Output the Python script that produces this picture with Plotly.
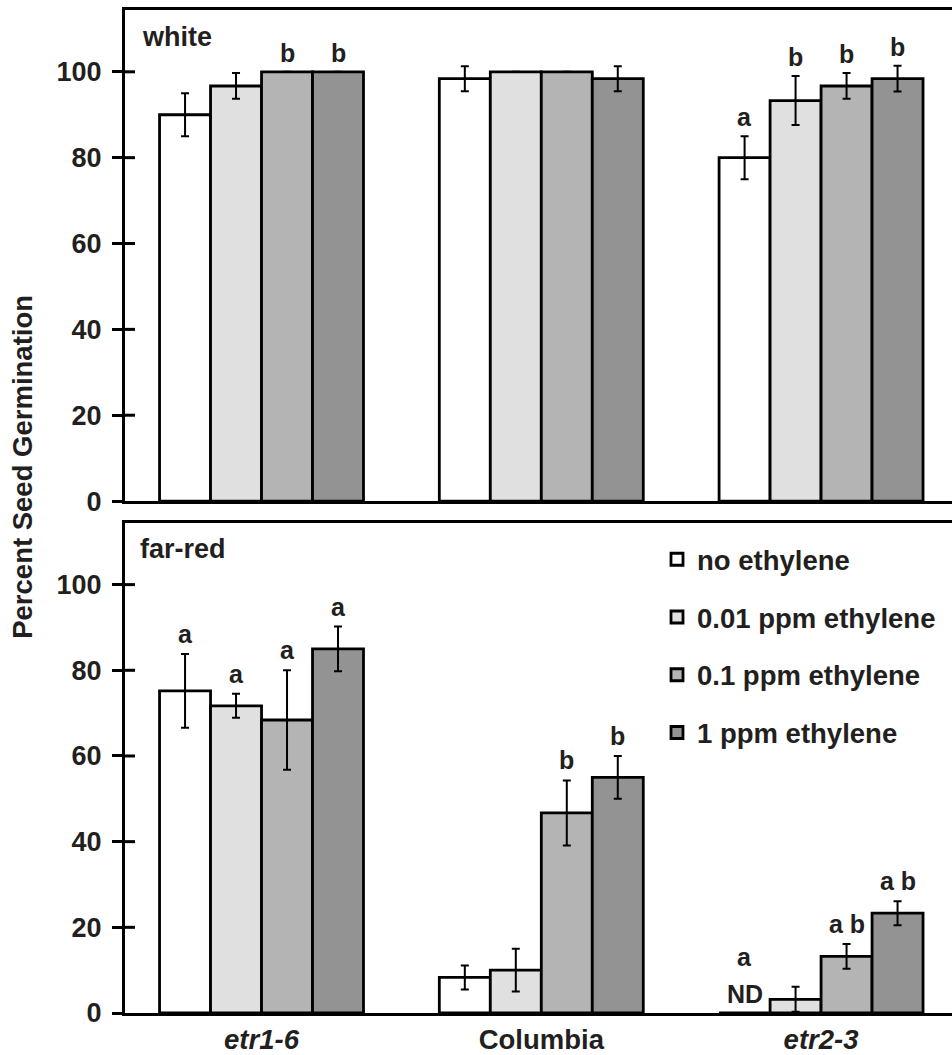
import plotly.graph_objects as go

# ---------------- data ----------------
genotypes = ["etr1-6", "Columbia", "etr2-3"]
genotype_labels = ["<i>etr1-6</i>", "Columbia", "<i>etr2-3</i>"]
treatments = ["no ethylene", "0.01 ppm ethylene", "0.1 ppm ethylene", "1 ppm ethylene"]
colors = ["#ffffff", "#e0e0e0", "#b4b4b4", "#939393"]

# white light (rows: treatment, cols: genotype)
white_mean = [[90.0, 98.4, 80.0],
              [96.7, 100.0, 93.3],
              [100.0, 100.0, 96.7],
              [100.0, 98.4, 98.4]]
white_err = [[5.0, 2.9, 5.0],
             [3.0, None, 5.7],
             [None, None, 3.0],
             [None, 2.9, 3.0]]
white_letters = [["", "", "a"],
                 ["", "", "b"],
                 ["b", "", "b"],
                 ["b", "", "b"]]

# far-red light
farred_mean = [[75.2, 8.3, 0.0],
               [71.7, 10.0, 3.2],
               [68.4, 46.7, 13.2],
               [85.0, 55.0, 23.3]]
farred_err = [[8.6, 2.8, None],
              [2.8, 5.0, 2.9],
              [11.6, 7.6, 2.9],
              [5.2, 5.0, 2.8]]
farred_letters = [["a", "", "a"],
                  ["a", "", ""],
                  ["a", "b", "a b"],
                  ["a", "b", "a b"]]
farred_nd = [["", "", "ND"],
             ["", "", ""],
             ["", "", ""],
             ["", "", ""]]

y_ticks = [0, 20, 40, 60, 80, 100]

# ---------------- style ----------------
FONT = "Liberation Sans, Arial, sans-serif"
TXT = "#231f20"
BARGAP = 0.271
XRANGE = [-0.488, 2.468]
YRANGE = [0, 114.4]
TOP_DOMAIN = [0.5104, 1.0]
BOT_DOMAIN = [0.0, 0.4886]
LW = 3
PLOT_W = 952 - 125

fig = go.Figure()

panels = [
    ("x", "y", white_mean, white_err, False),
    ("x2", "y2", farred_mean, farred_err, True),
]
for xa, ya, means, errs, show in panels:
    for j, t in enumerate(treatments):
        fig.add_trace(go.Bar(
            x=genotypes, y=means[j], name=t, xaxis=xa, yaxis=ya,
            legendgroup=t, showlegend=show,
            marker=dict(color=colors[j], line=dict(color="black", width=2.8)),
            error_y=dict(type="data", array=errs[j], visible=True,
                         color="black", thickness=2, width=4),
        ))

# letters above bars
w = (1 - BARGAP) / 4
annotations = []
letter_font = dict(family=FONT, size=25, color=TXT, weight="bold")


def top_of(m, e):
    return m + (e if e is not None else 0)


for j in range(4):
    for i in range(3):
        xpos = i + (j - 1.5) * w
        lt = white_letters[j][i]
        if lt:
            annotations.append(dict(x=xpos, y=top_of(white_mean[j][i], white_err[j][i]),
                                    xref="x", yref="y", text=lt, showarrow=False,
                                    yanchor="bottom", yshift=3, font=letter_font))
        nd = farred_nd[j][i]
        lt = farred_letters[j][i]
        if nd:
            annotations.append(dict(x=xpos, y=0, xref="x2", yref="y2", text=nd,
                                    showarrow=False, yanchor="bottom", yshift=3,
                                    font=letter_font))
            if lt:
                annotations.append(dict(x=xpos, y=0, xref="x2", yref="y2", text=lt,
                                        showarrow=False, yanchor="bottom", yshift=40,
                                        font=letter_font))
        elif lt:
            annotations.append(dict(x=xpos, y=top_of(farred_mean[j][i], farred_err[j][i]),
                                    xref="x2", yref="y2", text=lt, showarrow=False,
                                    yanchor="bottom", yshift=4, font=letter_font))

label_font = dict(family=FONT, size=27, color=TXT, weight="bold")
annotations.append(dict(x=0.018, y=0.945, xref="x domain", yref="y domain",
                        text="white", showarrow=False, xanchor="left", yanchor="middle",
                        font=label_font))
annotations.append(dict(x=0.016, y=0.947, xref="x2 domain", yref="y2 domain",
                        text="far-red", showarrow=False, xanchor="left", yanchor="middle",
                        font=label_font))
annotations.append(dict(x=-0.1233, y=0.5446, xref="paper", yref="paper",
                        text="Percent Seed Germination", textangle=-90, showarrow=False,
                        xanchor="center", yanchor="middle",
                        font=dict(family=FONT, size=27.5, color=TXT, weight="bold")))

# inward half of the crossing tick marks (axis decoration, paper coordinates)
shapes = []
for dom in [TOP_DOMAIN, BOT_DOMAIN]:
    for v in y_ticks[1:]:
        yp = dom[0] + (v - YRANGE[0]) / (YRANGE[1] - YRANGE[0]) * (dom[1] - dom[0])
        shapes.append(dict(type="line", xref="paper", yref="paper", layer="above",
                           x0=-2 / PLOT_W, x1=10 / PLOT_W, y0=yp, y1=yp,
                           line=dict(color="black", width=3)))

tick_font = dict(family=FONT, size=27, color=TXT, weight="bold")

xcommon = dict(type="category", range=XRANGE, showline=True, linecolor="black",
               linewidth=LW, mirror=True, ticks="", showgrid=False, zeroline=False,
               fixedrange=True)
ycommon = dict(range=YRANGE, tickvals=y_ticks, ticks="outside", ticklen=10, tickwidth=3,
               tickcolor="black", showline=True, linecolor="black", linewidth=LW,
               mirror=False, showgrid=False, zeroline=False, tickfont=tick_font,
               ticklabelstandoff=5)

fig.update_layout(
    width=952, height=1055,
    margin=dict(l=125, r=0, t=10, b=36),
    paper_bgcolor="white", plot_bgcolor="white",
    barmode="group", bargap=BARGAP, bargroupgap=0,
    font=dict(family=FONT, color=TXT),
    xaxis=dict(xcommon, domain=[0, 1], anchor="y", showticklabels=False),
    yaxis=dict(ycommon, domain=TOP_DOMAIN, anchor="x"),
    xaxis2=dict(xcommon, domain=[0, 1], anchor="y2", tickvals=genotypes,
                ticktext=genotype_labels,
                tickfont=dict(family=FONT, size=27.5, color=TXT, weight="bold"),
                ticklabelstandoff=0),
    yaxis2=dict(ycommon, domain=BOT_DOMAIN, anchor="x2"),
    legend=dict(x=(657 - 125) / 827, y=0.4767, xanchor="left", yanchor="top",
                bgcolor="rgba(0,0,0,0)",
                font=dict(family=FONT, size=27.5, color=TXT, weight="bold"),
                tracegroupgap=19, itemwidth=30, traceorder="grouped"),
    annotations=annotations,
    shapes=shapes,
    showlegend=True,
)

fig.write_html("out.html")
